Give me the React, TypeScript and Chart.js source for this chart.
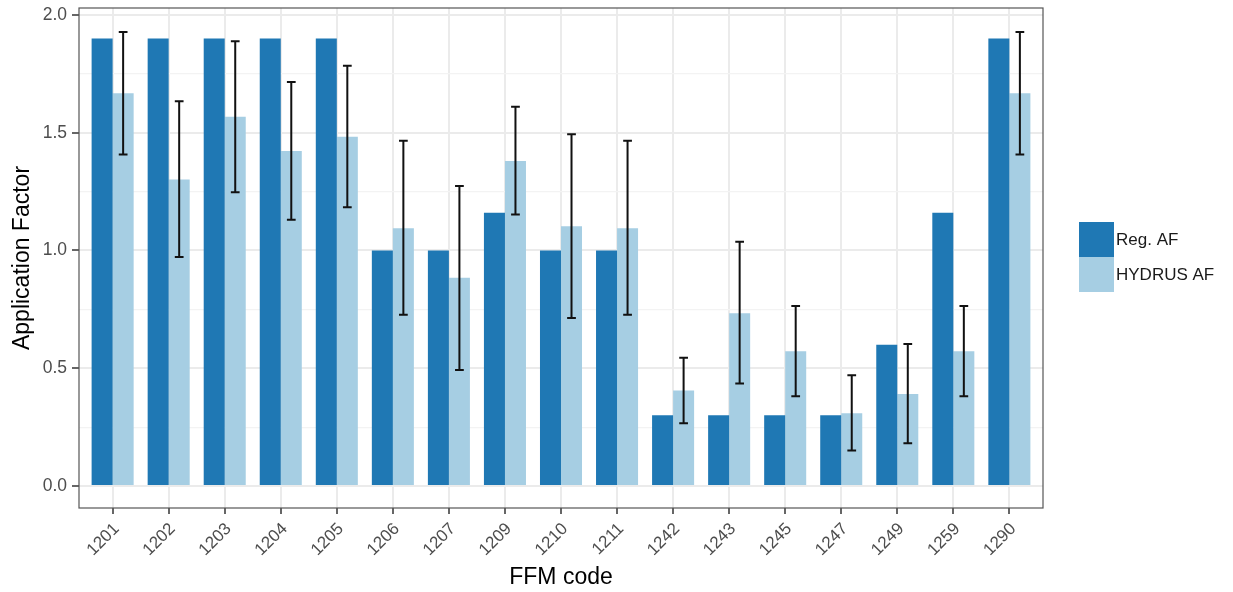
import React, { useEffect, useRef } from 'react';
import { Chart, registerables } from 'chart.js';

Chart.register(...registerables);

const categories = ['1201', '1202', '1203', '1204', '1205', '1206', '1207', '1209', '1210', '1211', '1242', '1243', '1245', '1247', '1249', '1259', '1290'];
const regAF = [1.9, 1.9, 1.9, 1.9, 1.9, 1.0, 1.0, 1.16, 1.0, 1.0, 0.3, 0.3, 0.3, 0.3, 0.6, 1.16, 1.9];
const hydrusAF = [1.668, 1.301, 1.568, 1.422, 1.483, 1.095, 0.884, 1.38, 1.103, 1.095, 0.405, 0.734, 0.572, 0.309, 0.391, 0.572, 1.668];
const hydrusHi = [1.928, 1.634, 1.888, 1.715, 1.784, 1.466, 1.274, 1.61, 1.494, 1.466, 0.545, 1.037, 0.764, 0.47, 0.603, 0.764, 1.928];
const hydrusLo = [1.408, 0.972, 1.247, 1.131, 1.184, 0.727, 0.493, 1.153, 0.713, 0.727, 0.266, 0.435, 0.381, 0.151, 0.182, 0.381, 1.408];
const seriesNames = ['Reg. AF', 'HYDRUS AF'];
const yTicks = [0, 0.25, 0.5, 0.75, 1.0, 1.25, 1.5, 1.75, 2.0];
const yMin = -0.0934;
const yMax = 2.0297;

const DARK = '#1f78b4';
const LIGHT = '#a6cee3';
const FONT = "'Liberation Sans', Arial, Helvetica, sans-serif";

const isMajor = (v: number) => Math.abs(v * 2 - Math.round(v * 2)) < 1e-9;

const errorBarPlugin = {
  id: 'errorBars',
  afterDatasetsDraw(chart: any) {
    const meta = chart.getDatasetMeta(1);
    const xs = chart.scales.x;
    const ys = chart.scales.y;
    const cap = (xs.getPixelForValue(1) - xs.getPixelForValue(0)) * 0.078;
    const ctx = chart.ctx;
    ctx.save();
    ctx.strokeStyle = '#111111';
    ctx.lineWidth = 2;
    meta.data.forEach((el: any, i: number) => {
      const x = el.x;
      const yh = ys.getPixelForValue(hydrusHi[i]);
      const yl = ys.getPixelForValue(hydrusLo[i]);
      ctx.beginPath();
      ctx.moveTo(x, yh);
      ctx.lineTo(x, yl);
      ctx.moveTo(x - cap, yh);
      ctx.lineTo(x + cap, yh);
      ctx.moveTo(x - cap, yl);
      ctx.lineTo(x + cap, yl);
      ctx.stroke();
    });
    ctx.restore();
  },
};

const panelPlugin = {
  id: 'panelAndLegend',
  afterDraw(chart: any) {
    const { ctx, chartArea } = chart;
    ctx.save();
    ctx.strokeStyle = '#555555';
    ctx.lineWidth = 1.2;
    ctx.strokeRect(chartArea.left, chartArea.top, chartArea.right - chartArea.left, chartArea.bottom - chartArea.top);
    // legend
    const lx = 1079;
    const ly = 222;
    const size = 35;
    const colors = [DARK, LIGHT];
    ctx.font = `17px ${FONT}`;
    ctx.textBaseline = 'middle';
    ctx.textAlign = 'left';
    seriesNames.forEach((name, i) => {
      ctx.fillStyle = colors[i];
      ctx.fillRect(lx, ly + i * size, size, size);
      ctx.fillStyle = '#1a1a1a';
      ctx.fillText(name, lx + size + 2, ly + i * size + size / 2 + 1);
    });
    ctx.restore();
  },
};

export default function App() {
  const ref = useRef<HTMLCanvasElement | null>(null);

  useEffect(() => {
    if (!ref.current) return;
    const chart = new Chart(ref.current, {
      type: 'bar',
      data: {
        datasets: [
          {
            label: seriesNames[0],
            data: regAF.map((v, i) => ({ x: i, y: v })),
            backgroundColor: DARK,
            borderWidth: 0,
          },
          {
            label: seriesNames[1],
            data: hydrusAF.map((v, i) => ({ x: i, y: v })),
            backgroundColor: LIGHT,
            borderWidth: 0,
          },
        ],
      },
      options: {
        responsive: false,
        animation: false,
        events: [],
        categoryPercentage: 0.75,
        barPercentage: 1,
        layout: { padding: { top: 8, right: 190, left: 0, bottom: 0 } },
        plugins: {
          legend: { display: false },
          tooltip: { enabled: false },
        },
        scales: {
          x: {
            type: 'linear',
            min: -0.6,
            max: categories.length - 1 + 0.6,
            offset: false,
            afterBuildTicks: (scale: any) => {
              scale.ticks = categories.map((_, i) => ({ value: i }));
            },
            afterFit: (scale: any) => {
              scale.height = 84;
              scale.paddingLeft = 0;
              scale.paddingRight = 0;
            },
            border: { display: false },
            grid: {
              offset: false,
              color: '#ebebeb',
              lineWidth: 2,
              tickColor: '#333333',
              tickWidth: 1.5,
              tickLength: 6,
            },
            ticks: {
              autoSkip: false,
              minRotation: 45,
              maxRotation: 45,
              padding: 5,
              labelOffset: 4,
              color: '#4d4d4d',
              font: { family: FONT, size: 17 },
              callback: (v: any) => categories[Math.round(Number(v))] ?? '',
            },
            title: {
              display: true,
              text: 'FFM code',
              color: '#000000',
              font: { family: FONT, size: 23 },
              padding: { top: 0, bottom: 1 },
            },
          },
          y: {
            type: 'linear',
            min: yMin,
            max: yMax,
            afterBuildTicks: (scale: any) => {
              scale.ticks = yTicks.map((v) => ({ value: v }));
            },
            afterFit: (scale: any) => {
              scale.width = 79;
              scale.paddingTop = 0;
              scale.paddingBottom = 0;
            },
            border: { display: false },
            grid: {
              color: (c: any) => (isMajor(c.tick?.value ?? 0) ? '#ebebeb' : '#f3f3f3'),
              lineWidth: (c: any) => (isMajor(c.tick?.value ?? 0) ? 2 : 1.2),
              tickColor: (c: any) => (isMajor(c.tick?.value ?? 0) ? '#333333' : 'rgba(0,0,0,0)'),
              tickWidth: 1.5,
              tickLength: 7,
            },
            ticks: {
              padding: 5,
              color: '#4d4d4d',
              font: { family: FONT, size: 17.5 },
              callback: (v: any) => (isMajor(Number(v)) ? Number(v).toFixed(1) : ''),
            },
            title: {
              display: true,
              text: 'Application Factor',
              color: '#000000',
              font: { family: FONT, size: 23 },
              padding: { top: 9, bottom: 0 },
            },
          },
        },
      },
      plugins: [errorBarPlugin, panelPlugin],
    } as any);
    return () => chart.destroy();
  }, []);

  return (
    <div style={{ position: 'absolute', left: 0, top: 0, width: 1233, height: 592, background: '#ffffff' }}>
      <canvas ref={ref} width={1233} height={592} style={{ display: 'block' }} />
    </div>
  );
}
